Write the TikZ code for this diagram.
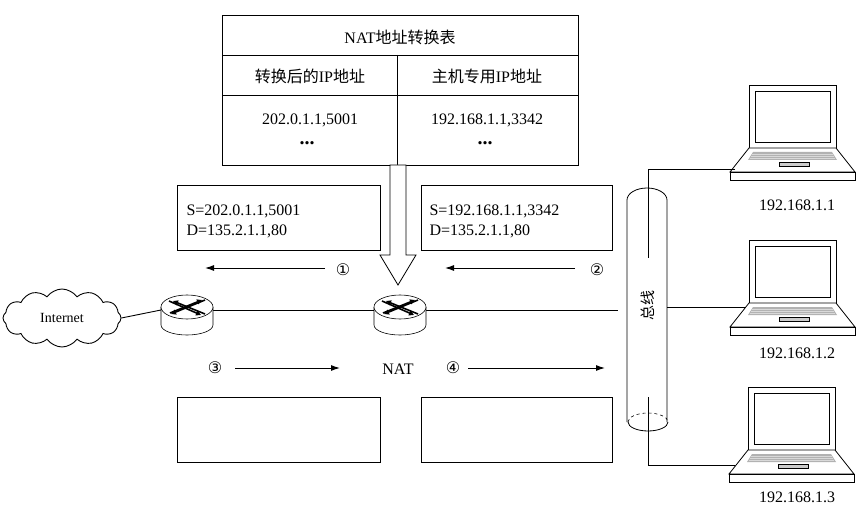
\documentclass[tikz,border=0pt]{standalone}
\usepackage{fontspec}
\setmainfont{Liberation Serif}
\newfontfamily\cjk{Noto Sans CJK SC}
\newfontfamily\dv{DejaVu Sans}
\usetikzlibrary{shapes.symbols,arrows.meta}
\tikzset{
  box/.style={draw,line width=0.8pt},
  txt/.style={font=\fontsize{16}{20}\selectfont},
  flow/.style={-{Latex[length=9pt,width=6pt]},line width=1pt},
  wire/.style={line width=0.9pt},
  num/.style={font=\dv\fontsize{16}{18}\selectfont},
  pics/router/.style={code={
    \draw[fill=white,line width=0.6pt] (-26,-6) -- (-26,12) arc(180:0:26 and 10) -- (26,-6);
    \draw[fill=white,line width=0.6pt] (0,-6) ellipse (26 and 12);
    \draw[line width=1.6pt,-{Triangle[length=5pt,width=5pt]}] (-18,-12) -- (14,2);
    \draw[line width=1.6pt,-{Triangle[length=5pt,width=5pt]}] (18,1) -- (-14,-12);
    \draw[line width=1.6pt,-{Triangle[length=5pt,width=5pt]}] (18,-13) -- (-16,1);
    \draw[line width=1.6pt,-{Triangle[length=5pt,width=5pt]}] (-17,0) -- (15,-13);
  }},
  pics/laptop/.style={code={
    \draw[line width=0.8pt] (0,0) rectangle (87,63);
    \draw[line width=0.8pt] (6,6) rectangle (81,57);
    \draw[line width=0.8pt,fill=white] (0,63) -- (87,63) -- (106,87) -- (-19,87) -- cycle;
    \fill[gray!60] (4,67) -- (83,67) -- (88,75) -- (-1,75) -- cycle;
    \draw[gray!30,line width=0.4pt] (3,69) -- (84,69) (2,71.5) -- (85,71.5) (1,73.5) -- (86,73.5);
    \draw[line width=0.6pt,fill=gray!40] (30,77) rectangle (60,81);
    \draw[line width=0.8pt] (-19,87) rectangle (106,95);
  }}
}
\begin{document}
\begin{tikzpicture}[x=1pt,y=-1pt]
\useasboundingbox (0,0) rectangle (863,516);
% table
\node[box,minimum width=356,minimum height=150,anchor=north west] (tab) at (222,15) {};
\draw[box] (222,55) -- (578,55) (222,95) -- (578,95) (397,55) -- (397,165);
\node[txt] (t0) at (400,37) {NAT{\cjk 地址转换表}};
\node[txt] (t1) at (310,76) {{\cjk 转换后的}IP{\cjk 地址}};
\node[txt] (t2) at (487,76) {{\cjk 主机专用}IP{\cjk 地址}};
\node[txt] (t3) at (310,120) {202.0.1.1,5001};
\node[txt] (t4) at (487,120) {192.168.1.1,3342};
\node[font=\bfseries\fontsize{20}{20}\selectfont] (t5) at (307,143) {...};
\node[font=\bfseries\fontsize{20}{20}\selectfont] (t6) at (485,143) {...};
% hollow arrow
\draw[line width=0.8pt,fill=white] (390,165) -- (406,165) -- (406,255) -- (416,255) -- (398,285) -- (380,255) -- (390,255) -- cycle;
% packet boxes
\node[box,minimum width=203,minimum height=65,anchor=north west] (b1) at (177,185) {};
\node[box,minimum width=191,minimum height=65,anchor=north west] (b2) at (421,185) {};
\node[box,minimum width=203,minimum height=65,anchor=north west] (b3) at (177,397) {};
\node[box,minimum width=191,minimum height=65,anchor=north west] (b4) at (421,397) {};
\node[txt,anchor=west,align=left] (p1) at (183,221) {S=202.0.1.1,5001\\D=135.2.1.1,80};
\node[txt,anchor=west,align=left] (p2) at (426,221) {S=192.168.1.1,3342\\D=135.2.1.1,80};
% arrows
\coordinate (a1s) at (325,268); \coordinate (a1e) at (205,268);
\coordinate (a2s) at (575,268); \coordinate (a2e) at (445,268);
\coordinate (a3s) at (235,368); \coordinate (a3e) at (340,368);
\coordinate (a4s) at (468,368); \coordinate (a4e) at (605,368);
\draw[flow] (a1s) -- (a1e);
\draw[flow] (a2s) -- (a2e);
\draw[flow] (a3s) -- (a3e);
\draw[flow] (a4s) -- (a4e);
\node[num] (n1) at (343,270) {①};
\node[num] (n2) at (597,270) {②};
\node[num] (n3) at (215,368) {③};
\node[num] (n4) at (453,368) {④};
\node[txt] (nat) at (398,369) {NAT};
% cloud
\node[cloud,cloud puffs=12,cloud puff arc=110,aspect=2.2,draw,line width=0.9pt,minimum width=118,minimum height=58,inner sep=0pt,font=\fontsize{14}{16}\selectfont] (inet) at (62,318) {Internet};
\coordinate (r1l) at (161,310); \coordinate (r1r) at (213,310);
\coordinate (r2l) at (374,310); \coordinate (r2r) at (426,310);
\coordinate (busl) at (618,310);
\draw[wire] (inet.east) -- (r1l);
\draw[wire] (r1r) -- (r2l);
\draw[wire] (r2r) -- (busl);
\pic at (187,313) {router};
\pic at (400,313) {router};
% bus
\draw[line width=0.8pt] (627,422) -- (627,200) arc(180:360:20 and 12) -- (667,422);
\draw[line width=0.6pt,dashed] (628,422) arc(180:360:20 and 9);
\draw[line width=0.8pt] (628,422) arc(180:0:20 and 9);
\node[font=\cjk\fontsize{15}{17}\selectfont,rotate=90] (bus) at (648,305) {总线};
% laptops
\pic at (749,85) {laptop};
\pic at (749,240) {laptop};
\pic at (748,387) {laptop};
\node[txt] (l1) at (797,205) {192.168.1.1};
\node[txt] (l2) at (797,353) {192.168.1.2};
\node[txt] (l3) at (797,497) {192.168.1.3};
\coordinate (c1) at (735,169); \coordinate (c1b) at (648,169); \coordinate (c1e) at (648,258);
\coordinate (c2a) at (667,307); \coordinate (c2b) at (745,307);
\coordinate (c3a) at (648,397); \coordinate (c3b) at (648,465); \coordinate (c3e) at (735,465);
\draw[wire] (c1) -- (c1b) -- (c1e);
\draw[wire] (c2a) -- (c2b);
\draw[wire] (c3a) -- (c3b) -- (c3e);
\end{tikzpicture}
\end{document}
